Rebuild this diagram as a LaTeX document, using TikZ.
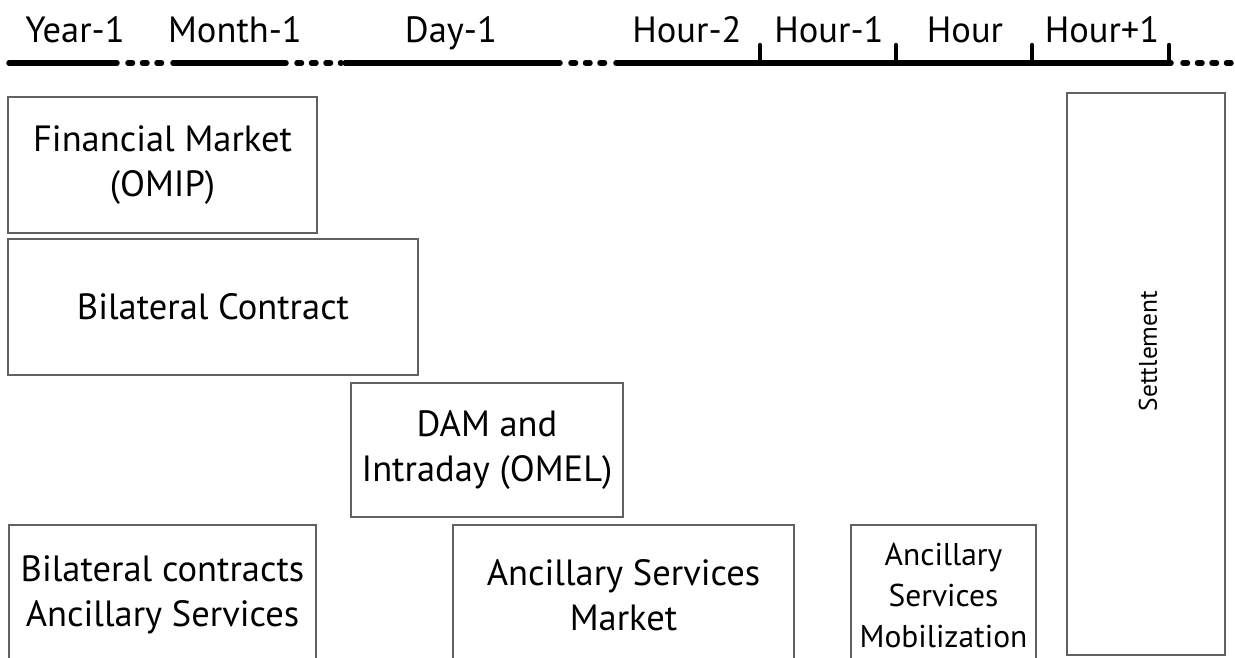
\documentclass[tikz,border=0pt]{standalone}
\usepackage{fontspec}
\setmainfont{PT Sans}
\begin{document}
\begin{tikzpicture}[x=1pt,y=-1pt,
  box/.style={draw=black!62,line width=2.2pt,inner sep=0pt,align=center,
    font=\fontsize{36.5}{45}\selectfont},
  smallbox/.style={box,font=\fontsize{31.5}{41}\selectfont},
  head/.style={font=\fontsize{36.5}{40}\selectfont,anchor=base},
  solidseg/.style={line width=5.5pt,line cap=round},
  dotseg/.style={line width=5.5pt,line cap=round,dash pattern=on 4.5pt off 10pt},
  tick/.style={line width=4.5pt,line cap=round}]
\useasboundingbox (0,0) rectangle (1235,657);
\clip (0,0) rectangle (1235,657);

% time axis: solid spans joined by dotted gaps
\coordinate (s1a) at (9,63);   \coordinate (s1b) at (117,63);
\coordinate (s2a) at (173,63); \coordinate (s2b) at (286,63);
\coordinate (s3a) at (345,63); \coordinate (s3b) at (560,63);
\coordinate (s4a) at (616,63); \coordinate (s4b) at (1171,63);
\coordinate (tail) at (1240,63);
\draw[solidseg] (s1a) -- (s1b);
\draw[solidseg] (s2a) -- (s2b);
\draw[solidseg] (s3a) -- (s3b);
\draw[solidseg] (s4a) -- (s4b);
\draw[dotseg] ([xshift=11pt]s1b) -- ([xshift=-4pt]s2a);
\draw[dotseg] ([xshift=11pt]s2b) -- ([xshift=-4pt]s3a);
\draw[dotseg] ([xshift=11pt]s3b) -- ([xshift=-4pt]s4a);
\draw[dotseg] ([xshift=12pt]s4b) -- (tail);

% hour ticks
\foreach \t/\x in {t1/760,t2/896,t3/1032,t4/1169}{
  \coordinate (\t b) at (\x,63); \coordinate (\t t) at (\x,45);
  \draw[tick] (\t b) -- (\t t);
}

% axis labels
\node[head] (lyear)  at (75,42)   {Year-1};
\node[head] (lmonth) at (235,42)  {Month-1};
\node[head] (lday)   at (451,42)  {Day-1};
\node[head] (lh2)    at (687,42)  {Hour-2};
\node[head] (lh1)    at (829,42)  {Hour-1};
\node[head] (lh0)    at (965,42)  {Hour};
\node[head] (lhp)    at (1102,42) {Hour+1};

% market boxes
\node[box,minimum width=309pt,minimum height=136pt] (fin) at (162.5,165)
  {Financial Market\\(OMIP)};
\node[box,minimum width=410pt,minimum height=136pt] (bil) at (213,307)
  {Bilateral Contract};
\node[box,minimum width=272pt,minimum height=134pt] (dam) at (487,450)
  {DAM and\\Intraday (OMEL)};
\node[box,minimum width=307pt,minimum height=140pt] (bcas) at (162.5,595)
  {Bilateral contracts\\Ancillary Services};
\node[box,minimum width=341pt,minimum height=140pt] (asm) at (623.5,595)
  {Ancillary Services\\Market};
\node[smallbox,minimum width=185pt,minimum height=140pt] (mob) at (943.5,595)
  {Ancillary\\Services\\Mobilization};
\node[box,minimum width=158pt,minimum height=562pt] (set) at (1146,374) {};
\node[font=\fontsize{25.5}{30}\selectfont,rotate=90] (setl) at (1148,351) {Settlement};
\end{tikzpicture}
\end{document}
